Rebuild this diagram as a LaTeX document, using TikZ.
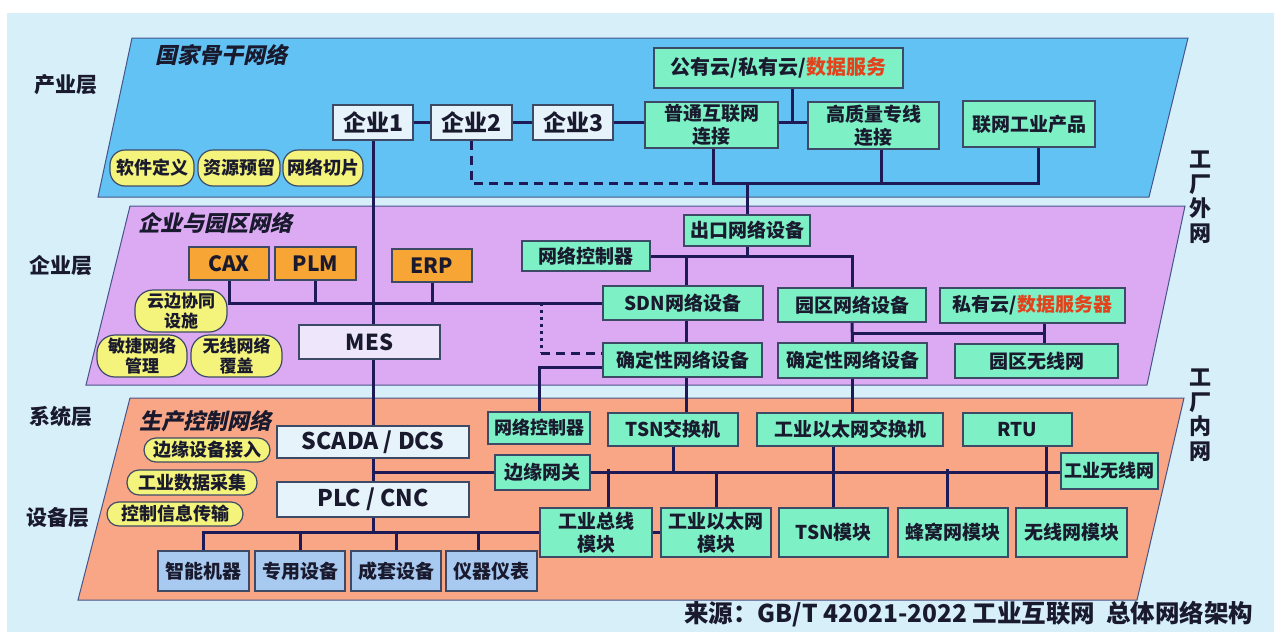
\documentclass[tikz,border=0pt]{standalone}
\usepackage{fontspec}
\setmainfont{Noto Sans CJK SC}
\newfontfamily\ttlfont{Noto Sans CJK SC}[FakeSlant=0.22,BoldFeatures={FakeSlant=0.22}]
\definecolor{bgc}{HTML}{D6EFF9}
\definecolor{bluel}{HTML}{62C2F3}
\definecolor{purl}{HTML}{DCA9F3}
\definecolor{orgl}{HTML}{F8A686}
\definecolor{grn}{HTML}{7DF0C6}
\definecolor{orgb}{HTML}{F7A535}
\definecolor{ylw}{HTML}{F4F47C}
\definecolor{wht}{HTML}{E6F3FB}
\definecolor{dev}{HTML}{A8C9F0}
\definecolor{mesc}{HTML}{EEE6FA}
\definecolor{lnc}{HTML}{1E1A58}
\definecolor{bord}{HTML}{3C4A66}
\definecolor{lyb}{HTML}{46548A}
\definecolor{txt}{HTML}{1A1A2E}
\definecolor{redt}{HTML}{E2421C}
\pgfdeclarelayer{bgl}
\pgfdeclarelayer{lines}
\pgfsetlayers{bgl,lines,main}
\newcommand\mybox[7]{\node[#1, minimum width={#5pt-#3pt}, minimum height={#6pt-#4pt}] (#2) at ({(#3+#5)/2},{(#4+#6)/2}) {#7};}
\begin{document}
\begin{tikzpicture}[x=1pt,y=-1pt,
  box/.style={draw=bord, line width=1.2pt, inner sep=1pt, align=center, text=txt, font=\bfseries\fontsize{19}{23}\selectfont},
  gbox/.style={box, fill=grn},
  obox/.style={box, fill=orgb, font=\bfseries\fontsize{21}{24}\selectfont},
  wbox/.style={box, fill=wht, font=\bfseries\fontsize{23}{26}\selectfont},
  dbox/.style={box, fill=dev},
  mbox/.style={box, fill=mesc, font=\bfseries\fontsize{22}{26}\selectfont},
  ybox/.style={box, fill=ylw, font=\bfseries\fontsize{17}{20}\selectfont},
  ln/.style={draw=lnc, line width=3pt},
  dashln/.style={ln, dash pattern=on 9pt off 6pt},
  dotln/.style={ln, dash pattern=on 3pt off 4pt},
  layer/.style={draw=lyb, line width=1pt},
  ttl/.style={text=txt, font=\ttlfont\bfseries\fontsize{22}{24}\selectfont},
  lbl/.style={text=txt, font=\bfseries\fontsize{21}{24}\selectfont},
  side/.style={text=txt, align=center, font=\bfseries\fontsize{22}{24.5}\selectfont}
]
\useasboundingbox (0,0) rectangle (1274,632);
\begin{pgfonlayer}{bgl}
\fill[white] (0,0) rectangle (1274,632);
\fill[bgc] (7,13) rectangle (1274,632);
\filldraw[layer, fill=bluel] (132,38) -- (1188,38) -- (1149,197) -- (98,197) -- cycle;
\filldraw[layer, fill=purl] (130,206) -- (1185,206) -- (1147,385) -- (86,385) -- cycle;
\filldraw[layer, fill=orgl] (130,398) -- (1184,398) -- (1137,600) -- (78,600) -- cycle;
\end{pgfonlayer}

% layer labels
\node[lbl] (L1) at (66,85) {产业层};
\node[lbl] (L2) at (61,266) {企业层};
\node[lbl] (L3) at (61,417) {系统层};
\node[lbl] (L4) at (58,518) {设备层};
\node[side] (R1) at (1200,197) {工\\厂\\外\\网};
\node[side] (R2) at (1200,415) {工\\厂\\内\\网};

% titles
\node[ttl] (T1) at (221,55) {国家骨干网络};
\node[ttl] (T2) at (215,223) {企业与园区网络};
\node[ttl] (T3) at (205,421) {生产控制网络};

\coordinate (bb1) at (713,183);
\coordinate (bb2) at (1038,183);
\coordinate (bb3) at (881,183);
\coordinate (c1) at (792,123);
\coordinate (j1) at (1044,333);
\coordinate (d1) at (541,353);
\coordinate (d2) at (539,367);
\coordinate (j3) at (373,532);
\coordinate (x4) at (478,532);
\coordinate (xb) at (608,469);
\coordinate (xr) at (1046,469);
\coordinate (xc) at (947,469);
\coordinate (xs) at (686,300);

% ---- industry layer boxes ----
\mybox{gbox,font=\bfseries\fontsize{20}{23}\selectfont}{cloud}{654}{48}{903}{88}{公有云/私有云/\textcolor{redt}{数据服务}}
\mybox{gbox}{pt}{645}{102}{778}{148}{普通互联网\\连接}
\mybox{gbox}{gz}{808}{102}{939}{149}{高质量专线\\连接}
\mybox{gbox}{gl}{963}{101}{1095}{147}{联网工业产品}
\mybox{wbox}{e1}{333}{105}{413}{140}{企业1}
\mybox{wbox}{e2}{431}{105}{512}{140}{企业2}
\mybox{wbox}{e3}{533}{105}{613}{140}{企业3}
\mybox{ybox,rounded corners=15pt,font=\bfseries\fontsize{18}{21}\selectfont}{y1}{110}{150}{194}{186}{软件定义}
\mybox{ybox,rounded corners=15pt,font=\bfseries\fontsize{18}{21}\selectfont}{y2}{198}{150}{280}{186}{资源预留}
\mybox{ybox,rounded corners=15pt,font=\bfseries\fontsize{18}{21}\selectfont}{y3}{283}{150}{363}{186}{网络切片}

% ---- enterprise layer boxes ----
\mybox{obox}{cax}{189}{247}{269}{280}{CAX}
\mybox{obox}{plm}{275}{247}{356}{280}{PLM}
\mybox{obox}{erp}{392}{249}{472}{282}{ERP}
\mybox{gbox}{nc1}{522}{241}{650}{271}{网络控制器}
\mybox{gbox}{ck}{684}{215}{810}{246}{出口网络设备}
\mybox{gbox}{sdn}{603}{286}{763}{320}{SDN网络设备}
\mybox{gbox}{yq}{778}{288}{926}{322}{园区网络设备}
\mybox{gbox}{pc}{940}{288}{1125}{323}{私有云/\textcolor{redt}{数据服务器}}
\mybox{gbox}{qd1}{603}{343}{762}{377}{确定性网络设备}
\mybox{gbox}{qd2}{778}{343}{927}{378}{确定性网络设备}
\mybox{gbox}{yw}{955}{344}{1118}{378}{园区无线网}
\mybox{mbox}{mes}{299}{325}{440}{359}{MES}
\mybox{ybox,rounded corners=18pt}{y4}{135}{290}{227}{332}{云边协同\\设施}
\mybox{ybox,rounded corners=18pt}{y5}{97}{335}{187}{377}{敏捷网络\\管理}
\mybox{ybox,rounded corners=18pt}{y6}{191}{335}{282}{377}{无线网络\\覆盖}

% ---- production layer boxes ----
\mybox{wbox}{scada}{277}{426}{469}{458}{SCADA / DCS}
\mybox{wbox}{plc}{277}{482}{469}{517}{PLC / CNC}
\mybox{gbox,font=\bfseries\fontsize{18}{22}\selectfont}{nc2}{488}{412}{590}{444}{网络控制器}
\mybox{gbox}{ts}{608}{413}{738}{446}{TSN交换机}
\mybox{gbox}{es}{757}{413}{943}{446}{工业以太网交换机}
\mybox{gbox}{rtu}{963}{413}{1072}{446}{RTU}
\mybox{gbox}{gw}{495}{455}{590}{490}{边缘网关}
\mybox{gbox,font=\bfseries\fontsize{18}{22}\selectfont}{wl}{1061}{453}{1158}{489}{工业无线网}
\mybox{gbox}{bm}{540}{508}{652}{557}{工业总线\\模块}
\mybox{gbox}{em}{661}{508}{771}{557}{工业以太网\\模块}
\mybox{gbox}{tm}{779}{508}{888}{557}{TSN模块}
\mybox{gbox}{cm}{898}{508}{1008}{557}{蜂窝网模块}
\mybox{gbox}{wm}{1016}{508}{1127}{557}{无线网模块}
\mybox{dbox}{dv1}{158}{551}{249}{591}{智能机器}
\mybox{dbox}{dv2}{255}{551}{345}{591}{专用设备}
\mybox{dbox}{dv3}{351}{551}{441}{591}{成套设备}
\mybox{dbox}{dv4}{446}{551}{537}{591}{仪器仪表}
\mybox{ybox,rounded corners=12pt,font=\bfseries\fontsize{18}{21}\selectfont}{y7}{144}{438}{270}{462}{边缘设备接入}
\mybox{ybox,rounded corners=12pt,font=\bfseries\fontsize{18}{21}\selectfont}{y8}{127}{470}{257}{495}{工业数据采集}
\mybox{ybox,rounded corners=12pt,font=\bfseries\fontsize{18}{21}\selectfont}{y9}{107}{502}{243}{526}{控制信息传输}

% ---- connectors ----
\begin{pgfonlayer}{lines}
\draw[ln] (e1.east) -- (e2.west);
\draw[ln] (e2.east) -- (e3.west);
\draw[ln] (e3.east) -- (e3.east -| pt.west);
\draw[ln] (pt.east |- e3.east) -- (gz.west |- e3.east);
\draw[ln] (cloud.south -| c1) -- (c1);
\draw[ln] (pt.south -| bb1) -- (bb1) -- (bb2) -- (gl.south -| bb2);
\draw[ln] (gz.south -| bb3) -- (bb3);
\draw[dashln] (e2.south) |- (bb1);
\draw[ln] (ck.north) -- (ck.north |- bb1);
\draw[ln] (e1.south) -- (e1.south |- scada.north);
\draw[ln] (cax.south) |- (sdn.west);
\draw[ln] (plm.south) -- (plm.south |- sdn.west);
\draw[ln] (erp.south) -- (erp.south |- sdn.west);
\draw[ln] (ck.south) -- (ck.south |- nc1.east);
\draw[ln] (nc1.east) -| (yq.north);
\draw[ln] (sdn.north -| xs) -- (xs |- nc1.east);
\draw[ln] (sdn.south -| xs) -- (qd1.north -| xs);
\draw[ln] (yq.south) -- (qd2.north);
\draw[ln] (yq.south |- j1) -- (j1);
\draw[ln] (pc.south -| j1) -- (yw.north -| j1);
\draw[dotln] (d1 |- sdn.west) -- (d1);
\draw[dashln] (d1) -- (d1 -| qd1.west);
\draw[ln] (nc2.north) -- (d2) -- (d2 -| qd1.west);
\draw[ln] (qd1.south -| xs) -- (ts.north -| xs);
\draw[ln] (qd2.south) -- (qd2.south |- es.north);
\draw[ln] (scada.south) -- (plc.north);
\draw[ln] (scada.south |- gw.west) -- (gw.west);
\draw[ln] (gw.east) -- (gw.east -| wl.west);
\draw[ln] (plc.south) -- (j3);
\draw[ln] (dv1.north) |- (bm.west);
\draw[ln] (dv2.north) -- (dv2.north |- bm.west);
\draw[ln] (dv3.north) -- (dv3.north |- bm.west);
\draw[ln] (dv4.north -| x4) -- (x4);
\draw[ln] (bm.east) -- (em.west);
\draw[ln] (bm.north -| xb) -- (xb);
\draw[ln] (em.north) -- (em.north |- gw.east);
\draw[ln] (ts.south) -- (ts.south |- gw.east);
\draw[ln] (es.south -| tm.north) -- (tm.north);
\draw[ln] (cm.north -| xc) -- (xc);
\draw[ln] (rtu.south -| xr) -- (wm.north -| xr);
\end{pgfonlayer}

% source
\node[text=txt, font=\bfseries\fontsize{24.5}{27}\selectfont, anchor=west, inner sep=0pt] (src) at (684,614) {来源：GB/T 42021-2022 工业互联网\ \ 总体网络架构};
\end{tikzpicture}
\end{document}
